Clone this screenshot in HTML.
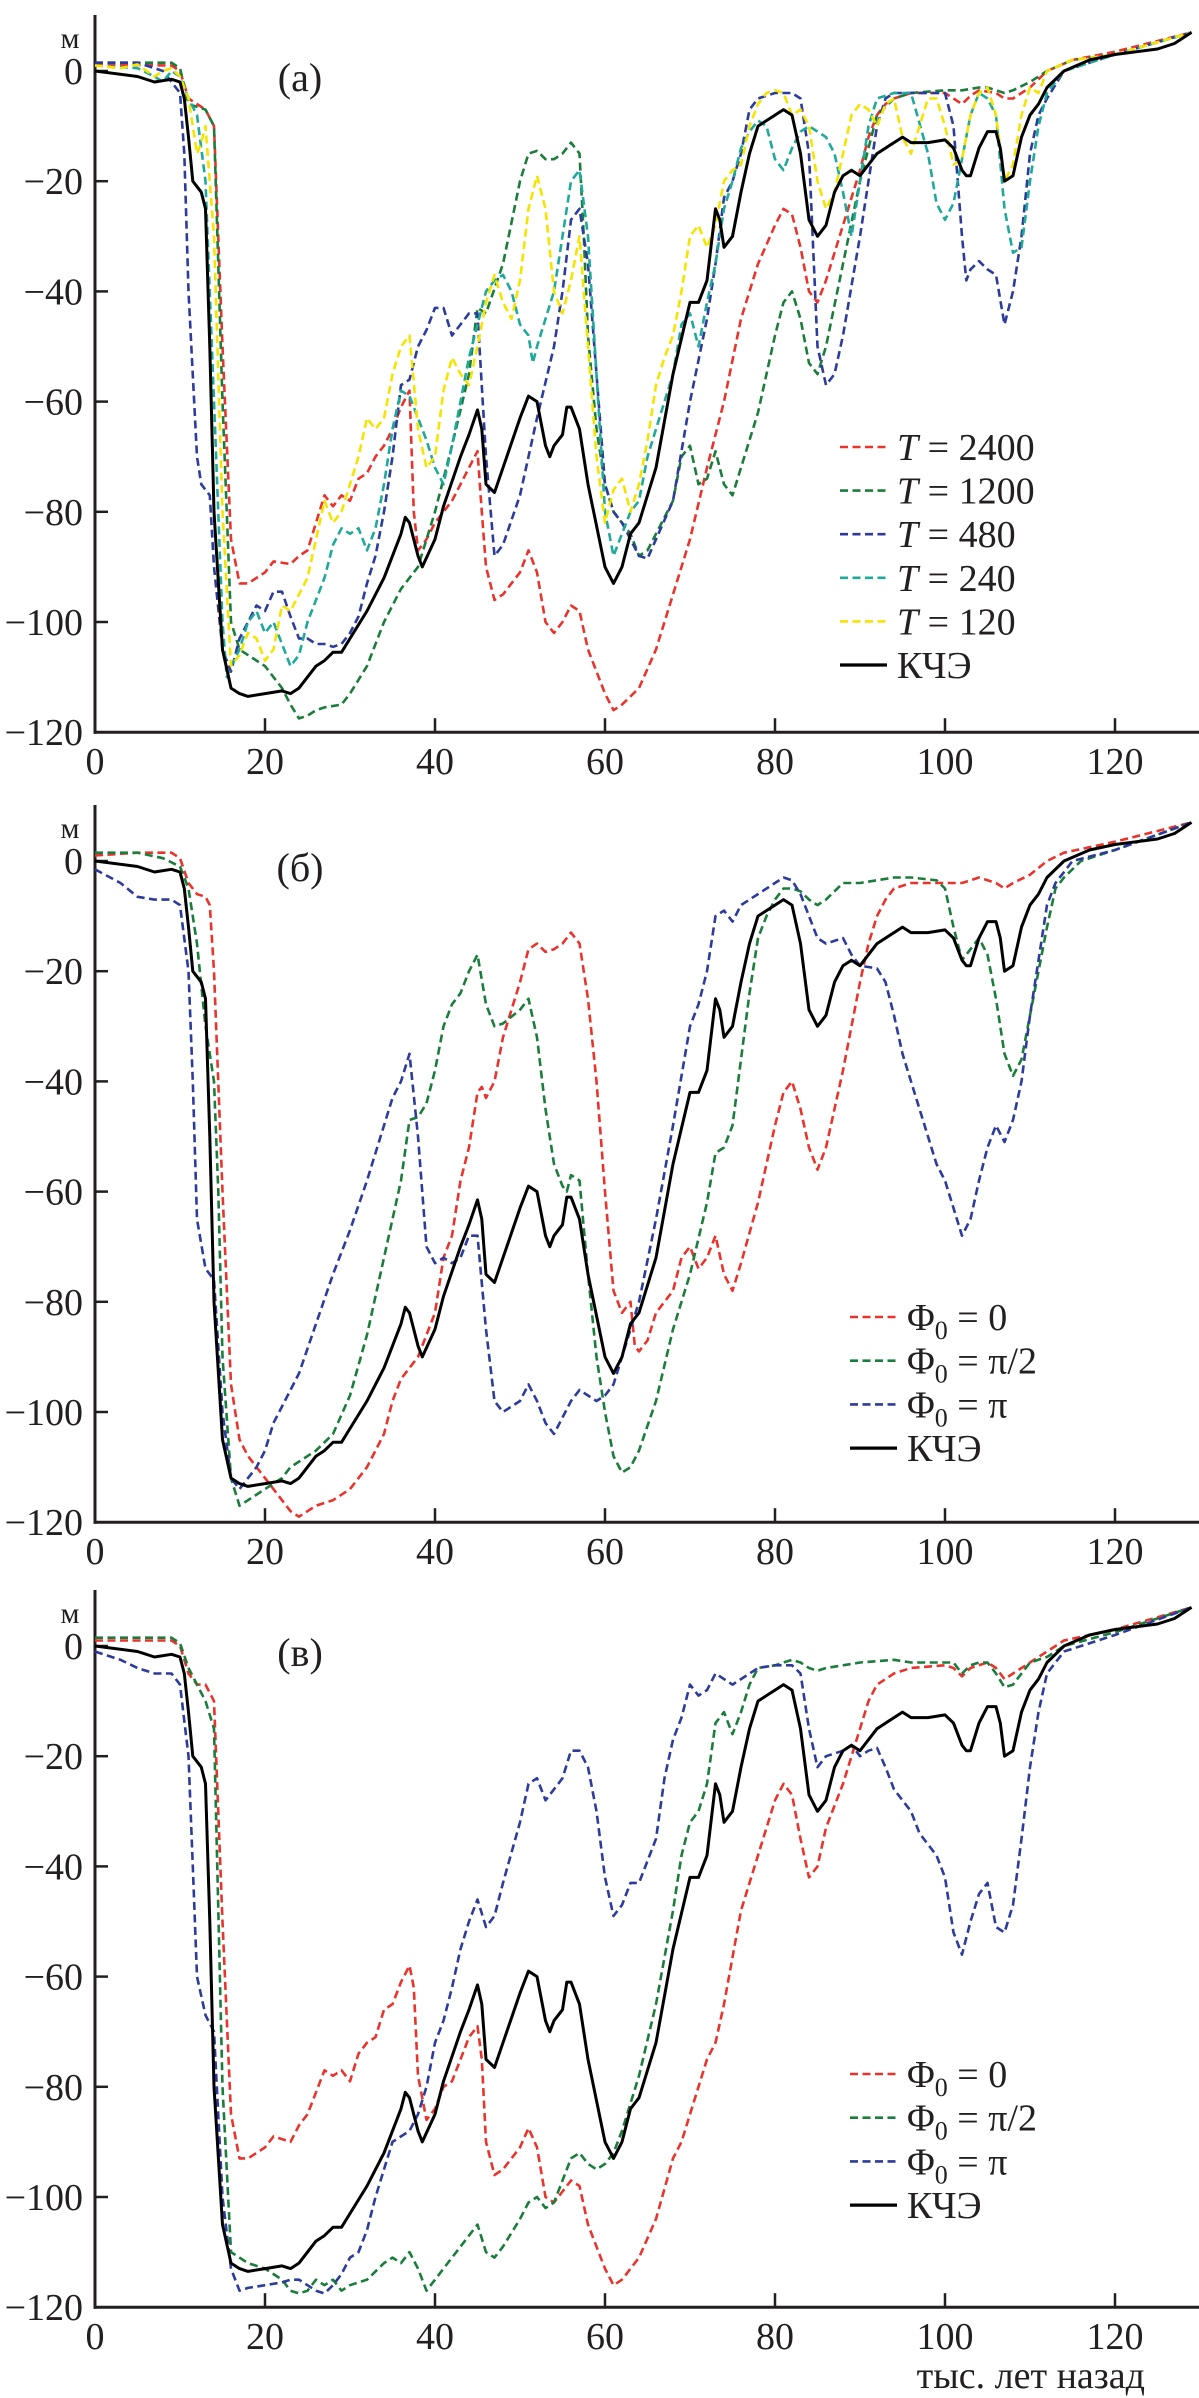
<!DOCTYPE html>
<html><head><meta charset="utf-8">
<style>
html,body{margin:0;padding:0;background:#fff;}
svg{display:block;}
text{font-family:"Liberation Serif","DejaVu Serif",serif;fill:#231f20;}
</style></head>
<body>
<svg id="fig" width="1199" height="2398" viewBox="0 0 1199 2398" xmlns="http://www.w3.org/2000/svg"></svg>
<script>
// ---- data (x: тыс. лет назад, y: м) ----
const xTicks = [0,20,40,60,80,100,120];
const yTicks = [0,-20,-40,-60,-80,-100,-120];
const kche = [[0,0],[5,-1],[7,-2],[9,-1.5],[10,-2],[10.5,-5],[11,-12],[11.5,-20],[12.5,-22],[13,-25],[13.5,-50],[14,-80],[15,-105],[16,-112],[17,-113],[18,-113.5],[20,-113],[22,-112.5],[23,-113],[24,-112],[26,-108],[27,-107],[28,-105.5],[29,-105.5],[30,-103],[32,-98],[34,-92],[36,-84],[36.5,-81],[37,-82],[38,-88],[38.5,-90],[40,-85],[41,-79],[43,-70],[44,-66],[45,-61.5],[45.5,-65],[46,-75],[47,-76.5],[48,-72],[50,-63],[51,-59],[52,-60],[53,-68],[53.5,-70],[54,-68],[55,-66],[55.5,-61],[56,-61],[57,-65],[58,-75],[60,-90],[61,-93],[62,-90],[63,-84],[64,-82],[66,-72],[68,-55],[70,-42],[71,-42],[72,-38],[73,-25],[73.5,-27],[74,-32],[75,-30],[76,-22],[77,-15],[78,-10],[80,-8],[81,-7],[82,-8],[83,-15],[84,-27],[85,-30],[86,-28],[87,-22],[88,-19],[89,-18],[90,-19],[92,-15],[94,-13],[95,-12],[96,-13],[98,-13],[100,-12.5],[101,-14],[102,-18],[102.5,-19],[103,-19],[104,-14],[105,-11],[106,-11],[106.5,-14],[107,-20],[108,-19],[109,-12],[110,-8],[111,-6],[112,-3],[114,0],[117,2],[120,3],[125,4],[127,5],[129,7]];
const t2400 = [[0,1.2],[9,1],[10,0],[11,-5],[13,-7],[14,-10],[15,-50],[16,-85],[17,-93],[18,-93],[20,-91],[21,-89],[23,-89.5],[24,-88],[25,-87],[26,-82],[27,-77],[28,-79],[29,-77],[30,-78],[31,-74],[32,-73],[33,-70],[34,-68],[35,-65],[36,-61],[37,-58],[37.5,-80],[38,-87],[39,-85],[40,-82],[41,-80],[42,-78],[43,-75],[44,-72],[45,-69],[45.5,-80],[46,-90],[47,-96],[48,-95],[50,-91],[51,-87],[52,-91],[53,-100],[54,-102],[55,-100],[56,-97],[57,-98],[58,-105],[60,-113],[61,-116],[62,-115],[64,-112],[66,-105],[68,-95],[69,-90],[70,-85],[72,-72],[74,-60],[76,-45],[78,-35],[80,-28],[81,-25],[82,-26],[83,-32],[84,-40],[85,-42],[86,-38],[88,-28],[90,-18],[91,-12],[92,-8],[93,-6],[94,-5],[96,-4],[100,-4],[101,-5],[102,-6],[103,-4.5],[104,-3.5],[106,-4],[107,-5],[108,-5],[110,-3],[112,0],[115,2],[120,3.5],[129,7]];
const t1200 = [[0,1.5],[9,1.5],[10,0.5],[11,-6],[13,-7],[14,-10],[15,-60],[16,-100],[17,-105],[18,-106],[20,-108],[22,-112],[23,-115],[24,-117.5],[25,-117],[26,-116],[27,-115.5],[29,-115],[30,-113],[32,-108],[34,-100],[36,-94],[38,-90],[40,-80],[42,-68],[44,-55],[45,-43],[46,-44],[48,-35],[50,-20],[51,-15],[52,-14.5],[53,-16],[54,-16],[55,-15],[56,-13],[57,-15],[57.5,-30],[58,-48],[59,-65],[60,-75],[61,-80],[62,-82],[63,-84],[64,-88],[65,-87],[66,-84],[68,-78],[69,-70],[70,-68],[71,-75],[72,-74],[73,-69],[74,-75],[75,-77],[76,-72],[78,-62],[80,-48],[81,-42],[82,-40],[83,-45],[84,-53],[85,-55],[86,-50],[88,-35],[90,-20],[92,-8],[94,-5],[96,-4],[100,-3.5],[102,-3.5],[104,-3],[105,-3],[106,-3.5],[107,-4],[108,-3.5],[110,-2],[112,0],[115,2],[120,3],[129,7]];
const t480 = [[0,1.5],[5,1.5],[8,0],[9,-2],[10,-4],[10.5,-15],[11,-40],[12,-70],[12.5,-75],[13.5,-77],[14,-90],[15,-105],[16,-109],[17,-103],[18,-100],[19,-97],[20,-98],[21,-94.5],[22,-94.5],[23,-99],[24,-103],[25,-103],[26,-104],[27,-104],[28,-104.5],[29,-104],[30,-102],[31,-99],[32,-93],[33,-88],[34,-80],[35,-70],[36,-57],[37,-56],[38,-50],[39,-47],[40,-43],[41,-43],[42,-48],[43,-46],[44,-44],[45,-44],[46,-70],[47,-88],[48,-86],[50,-77],[52,-63],[54,-50],[55,-40],[56,-27],[57,-25],[58,-35],[59,-55],[60,-75],[61,-80],[62,-82],[63,-85],[64,-88],[65,-88.5],[66,-85],[68,-78],[70,-60],[72,-45],[73,-35],[74,-23],[75,-20],[76,-15],[77,-7],[78,-5],[80,-4],[82,-4],[83,-5],[84,-15],[85,-50],[86,-57],[87,-55],[88,-48],[90,-30],[92,-10],[93,-5],[94,-4],[96,-4],[100,-4],[101,-10],[102,-30],[102.5,-38],[103,-36],[104,-34.5],[105,-36],[106,-37],[107,-46],[108,-40],[109,-30],[110,-15],[111,-8],[112,-5],[114,0],[120,3],[129,7]];
const t240 = [[0,1],[5,0.5],[7,-1],[8,-2],[9,0],[10,-1],[11,-5],[12,-8],[13,-20],[14,-60],[15,-100],[15.5,-110],[16,-108],[17,-105],[18,-100],[19,-98],[20,-102],[21,-100],[22,-104],[23,-108],[24,-106],[25,-100],[26,-96],[27,-92],[28,-86],[29,-83],[30,-84],[31,-83],[32,-87],[33,-83],[34,-75],[35,-65],[36,-58],[37,-59],[38,-63],[39,-67],[40,-72],[41,-75],[42,-68],[43,-60],[44,-52],[45,-46],[46,-40],[47,-38],[48,-37],[49,-40],[50,-46],[51,-48],[51.5,-53],[52,-50],[54,-40],[55,-30],[56,-20],[57,-18],[58,-30],[59,-55],[60,-80],[61,-88],[62,-84],[63,-80],[64,-78],[65,-70],[66,-65],[68,-55],[69,-46],[70,-44],[71,-50],[72,-42],[73,-35],[74,-25],[75,-20],[76,-14],[77,-11],[78,-9],[79,-10],[80,-16],[81,-18],[82,-14],[83,-11],[84,-10],[86,-12],[87,-15],[88,-22],[89,-30],[90,-20],[91,-10],[92,-5],[94,-4],[96,-4],[98,-15],[99,-24],[100,-27],[101,-24],[102,-16],[103,-8],[104,-4],[105,-5],[106,-8],[107,-25],[108,-33],[109,-32],[110,-20],[111,-10],[112,-4],[114,0],[120,3],[129,7]];
const t120 = [[0,1],[3,0.5],[5,1.2],[7,-1],[8,0],[9,0.5],[10,-1],[11,-5],[12,-15],[12.5,-13],[13,-10],[14,-30],[15,-80],[16,-108],[17,-106],[18,-102],[19,-103],[20,-107],[21,-105],[22,-97],[23,-98],[24,-95],[25,-92],[26,-85],[27,-78],[28,-82],[29,-80],[30,-75],[31,-70],[32,-63],[33,-65],[34,-63],[35,-55],[36,-50],[37,-48],[38,-65],[39,-72],[40,-70],[41,-58],[42,-52],[43,-55],[44,-57],[45,-50],[46,-42],[47,-37],[48,-42],[49,-45],[50,-38],[51,-25],[52,-19],[53,-25],[54,-40],[55,-44],[56,-38],[57,-30],[58,-50],[59,-70],[60,-82],[61,-76],[62,-74],[63,-80],[64,-75],[65,-67],[66,-57],[67,-52],[68,-48],[69,-40],[70,-30],[71,-28],[72,-32],[73,-28],[74,-20],[75,-18],[76,-17],[77,-10],[78,-6],[79,-4],[80,-3.5],[81,-4],[82,-8],[83,-7],[84,-10],[85,-20],[86,-25],[87,-22],[88,-15],[89,-8],[90,-6],[91,-7],[92,-10],[93,-6],[94,-5],[95,-12],[96,-15],[97,-10],[98,-5],[99,-5],[100,-10],[101,-17],[102,-16],[103,-8],[104,-4],[105,-3],[106,-8],[107,-20],[108,-17],[109,-8],[110,-3],[111,-4],[112,0],[115,2],[120,3],[129,7]];
const b0 = [[0,1],[5,1.5],[9,1.5],[10,0.5],[11,-4],[12,-6],[13,-6.5],[13.5,-8],[14,-20],[15,-60],[16,-95],[17,-105],[18,-108],[20,-112],[22,-116],[23,-118],[24,-119],[25,-118],[26,-117],[28,-116],[30,-114],[32,-110],[34,-104],[35,-98],[36,-94],[38,-90],[40,-82],[41,-72],[42,-68],[43,-58],[44,-52],[45,-42],[45.5,-41],[46,-43],[47,-40],[48,-32],[50,-22],[51,-16],[52,-15],[53,-16.5],[54,-16],[55,-15],[56,-13],[57,-15],[58,-25],[59,-40],[60,-60],[61,-78],[62,-82],[63,-80],[63.5,-88],[64,-89],[65,-87],[66,-82],[68,-78],[69,-72],[70,-70],[71,-74],[72,-72],[73,-68],[74,-75],[75,-78],[76,-73],[78,-62],[80,-48],[81,-42],[82,-40],[83,-45],[84,-52],[85,-56],[86,-52],[88,-38],[90,-22],[91,-15],[92,-10],[93,-7],[94,-5],[96,-4],[100,-4],[102,-4],[103,-3.5],[104,-3],[106,-4],[107,-5],[108,-4],[110,-2.5],[112,0],[114,1.5],[120,3.5],[129,7]];
const bHalf = [[0,1.5],[5,1.5],[8,0.5],[10,-1],[11,-5],[12,-15],[13,-30],[14,-40],[14.5,-60],[15,-90],[16,-112],[17,-117],[18,-116],[20,-114],[22,-112],[23,-110],[24,-109],[26,-107],[28,-104],[30,-97],[32,-86],[34,-72],[36,-58],[37,-47],[38,-46.5],[39,-44],[40,-38],[41,-30],[42,-26],[43,-24],[44,-20],[45,-17],[46,-26],[47,-30],[48,-29.5],[50,-27],[51,-25],[52,-32],[53,-45],[54,-55],[55,-59],[55.5,-60],[56,-57],[57,-58],[58,-75],[59,-90],[60,-100],[61,-108],[62,-111],[63,-110],[64,-107],[66,-98],[68,-85],[70,-75],[72,-62],[73,-53],[74,-52],[75,-48],[76,-36],[77,-24],[78,-14],[79,-10],[80,-7],[81,-5],[82,-5],[83,-5.5],[84,-7],[85,-8],[86,-7],[88,-4],[90,-4],[94,-3],[96,-3],[99,-3.5],[100,-5],[101,-12],[102,-18],[103,-16],[104,-14],[105,-17],[106,-25],[107,-35],[108,-39],[109,-36],[110,-28],[111,-20],[112,-12],[113,-5],[114,-3],[116,0],[120,2],[129,7]];
const bPi = [[0,-1.5],[3,-4],[5,-6.5],[7,-7],[9,-7],[10,-8],[11,-20],[11.5,-40],[12,-65],[13,-74],[14,-76],[15,-100],[16,-112],[17,-114],[18,-112],[19,-110],[20,-107],[21,-102],[22,-99],[24,-93],[26,-84],[28,-75],[30,-67],[32,-58],[33,-53],[34,-48],[35,-43],[36,-40],[37,-35],[38,-50],[39,-70],[40,-73],[41,-72],[42,-73],[43,-72],[44,-68],[45,-68],[46,-85],[47,-98],[48,-100],[50,-98],[51,-95],[52,-98],[53,-102],[54,-104],[55,-101],[56,-98],[57,-96],[58,-97],[59,-98],[60,-97],[61,-95],[62,-90],[64,-80],[66,-65],[68,-48],[70,-30],[71,-26],[72,-20],[73,-10],[74,-9],[75,-11],[76,-8],[78,-6],[80,-4],[81,-3],[82,-3.5],[83,-6],[84,-10],[85,-14],[86,-15],[88,-14],[89,-17],[90,-19],[92,-19.5],[93,-22],[94,-28],[95,-35],[96,-40],[98,-50],[99,-55],[100,-58],[101,-63],[102,-68],[103,-65],[104,-58],[105,-52],[106,-48],[107,-51],[108,-47],[109,-40],[110,-28],[111,-18],[112,-8],[113,-4],[115,0],[120,2],[129,7]];
const c0 = [[0,1],[9,1],[10,0],[11,-5],[12,-7],[13,-7],[14,-10],[15,-50],[16,-85],[17,-93],[18,-93],[20,-91],[21,-89],[23,-90],[24,-87],[25,-85],[26,-81],[27,-77],[28,-78],[29,-77],[30,-79],[31,-74],[32,-72],[33,-71],[34,-66],[35,-65],[36,-61],[37,-58],[37.5,-62],[38,-78],[39,-86],[40,-84],[41,-80],[42,-79],[43,-75],[44,-71],[45,-69],[45.5,-75],[46,-90],[47,-96],[48,-95],[50,-91],[51,-87.5],[52,-91],[53,-100],[54,-101],[55,-99],[56,-97],[57,-98],[58,-105],[60,-113],[61,-116],[62,-115],[64,-111],[66,-104],[68,-93],[69,-90],[70,-85],[72,-75],[73,-72],[74,-65],[76,-48],[78,-38],[80,-28],[81,-25],[82,-27],[83,-35],[84,-42],[85,-40],[86,-33],[88,-25],[90,-15],[91,-10],[92,-7],[94,-5],[96,-4],[100,-3.5],[101,-4],[102,-5.5],[103,-4],[105,-3],[106,-4],[107,-6],[108,-5],[110,-3],[112,-1],[114,1],[120,3],[129,7]];
const cHalf = [[0,1.5],[9,1.5],[10,0.5],[11,-4],[12,-7],[13,-10],[14,-15],[15,-80],[16,-110],[17,-111],[18,-112],[20,-113],[22,-115],[23,-117],[24,-117.5],[25,-117],[26,-115],[27,-116],[28,-115],[29,-117],[30,-116],[32,-115],[34,-112],[35,-111],[36,-112],[37,-110],[38,-113],[39,-117],[40,-115],[41,-113],[42,-111],[44,-107],[45,-105],[46,-110],[47,-111],[48,-109],[50,-104],[51,-101],[52,-100],[53,-102],[54,-101],[55,-97],[56,-93],[57,-92],[58,-94],[59,-95],[60,-94],[61,-92],[62,-88],[64,-78],[66,-65],[68,-48],[69,-38],[70,-32],[71,-30],[72,-25],[73,-14],[74,-12],[75,-16],[76,-12],[77,-7],[78,-4],[80,-3.5],[81,-3],[82,-2.5],[83,-3],[84,-4],[85,-4.5],[86,-4],[88,-3.5],[90,-3],[94,-2.5],[96,-3],[100,-3],[101,-3],[102,-5],[103,-3.5],[104,-3],[105,-3],[106,-5],[107,-7.5],[108,-7],[109,-5],[110,-3],[112,-2],[114,0],[120,2.5],[129,7]];
const cPi = [[0,-1],[3,-2.5],[5,-4],[7,-5],[9,-5],[10,-7],[11,-20],[11.5,-40],[12,-60],[13,-67],[14,-70],[15,-100],[16,-113],[17,-117],[18,-116.5],[20,-116],[22,-115.5],[23,-115],[24,-115],[25,-116],[26,-117],[27,-117.5],[28,-116],[29,-114],[30,-111],[31,-110],[32,-106],[33,-100],[34,-95],[35,-90],[36,-89],[37,-88],[38,-85],[39,-80],[40,-72],[41,-68],[42,-62],[43,-55],[44,-50],[45,-46],[46,-51],[47,-49],[48,-43],[50,-32],[51,-25],[52,-24],[53,-28],[54,-26],[55,-24],[56,-19],[57,-19],[58,-22],[59,-30],[60,-42],[61,-49],[62,-47],[63,-43],[64,-43],[66,-35],[67,-24],[68,-17],[69,-13],[70,-7],[71,-9],[72,-8],[73,-5],[74,-6],[75,-7],[76,-6],[78,-4],[80,-3.5],[82,-3.5],[83,-5],[84,-15],[85,-22],[86,-20],[88,-19],[89,-18],[90,-20],[91,-19],[92,-18.5],[93,-22],[94,-26],[95,-28],[96,-30],[97,-34],[98,-36],[99,-38],[100,-42],[101,-52],[102,-56],[103,-50],[104,-45],[105,-43],[106,-51],[107,-52],[108,-47],[109,-35],[110,-22],[111,-12],[112,-5],[114,-1],[120,2],[129,7]];
const labelsA = ['T = 2400','T = 1200','T = 480','T = 240','T = 120'];
const labelsPhi = ['0','π/2','π'];

const NS='http://www.w3.org/2000/svg';
const svg=document.getElementById('fig');
const X0=95, XS=8.5, YS=5.51;
const RED='#e8342c', GREEN='#1b7d3c', BLUE='#2d3b9c', TEAL='#1fa99b', YEL='#f5e400';
function el(tag,attrs,parent){const e=document.createElementNS(NS,tag);for(const k in attrs)e.setAttribute(k,attrs[k]);(parent||svg).appendChild(e);return e;}
function px(x){return X0+x*XS;}

function panel(name,y0,letter,series,legend,legendY){
  const g=el('g',{});
  
  
  const py=m=>y0-m*YS;
  const yBot=py(-120);
  // axes
  const ya=el('line',{x1:X0,y1:y0-56,x2:X0,y2:yBot+1.5,stroke:'#231f20','stroke-width':3},g);
  
  
  const xa=el('line',{x1:X0-1.5,y1:yBot,x2:1199,y2:yBot,stroke:'#231f20','stroke-width':3},g);
  
  
  yTicks.forEach(v=>{
    const y=py(v);
    if(v!==-120){const t=el('line',{x1:X0,y1:y,x2:X0+13,y2:y,stroke:'#231f20','stroke-width':2.5},g);
      
      }
    const tx=el('text',{x:83,y:y+13,'text-anchor':'end','font-size':38},g);
    
    
    tx.textContent=(v<0?'\u2212':'')+Math.abs(v);
  });
  xTicks.forEach(v=>{
    const x=px(v);
    if(v!==0){const t=el('line',{x1:x,y1:yBot,x2:x,y2:yBot-14,stroke:'#231f20','stroke-width':2.5},g);
      
      }
    const tx=el('text',{x:x,y:yBot+42,'text-anchor':'middle','font-size':38},g);
    
    
    tx.textContent=v;
  });
  const u=el('text',{x:70,y:y0-23,'text-anchor':'middle','font-size':30},g);
  
  
  u.textContent='м';
  const pl=el('text',{x:300,y:y0+20,'text-anchor':'middle','font-size':40},g);
  
  
  pl.textContent=letter;
  // series
  series.forEach(s=>{
    const d=s.data.map((p,i)=>(i?'L':'M')+px(p[0]).toFixed(1)+' '+py(p[1]).toFixed(1)).join(' ');
    const a={d:d,fill:'none',stroke:s.color,'stroke-width':s.dash?2.6:3,'stroke-linejoin':'round'};
    if(s.dash)a['stroke-dasharray']='8 4.5';
    const p=el('path',a,g);
    
    
  });
  // legend
  const lg=el('g',{},g);
  
  
  legend.forEach((L,i)=>{
    const y=legendY+i*legend.step;
    const ln=el('line',{x1:L.x1,y1:y,x2:L.x1+47,y2:y,stroke:L.color,'stroke-width':L.dash?2.6:3.2},lg);
    if(L.dash)ln.setAttribute('stroke-dasharray','8 4.5');
    
    
    const t=el('text',{x:L.x1+57,y:y+13,'font-size':38},lg);
    
    
    t.innerHTML=L.html;
  });
}

// Panel (a)
const legA=[
 {color:RED,dash:1,x1:840,html:'<tspan font-style="italic">T</tspan> = 2400'},
 {color:GREEN,dash:1,x1:840,html:'<tspan font-style="italic">T</tspan> = 1200'},
 {color:BLUE,dash:1,x1:840,html:'<tspan font-style="italic">T</tspan> = 480'},
 {color:TEAL,dash:1,x1:840,html:'<tspan font-style="italic">T</tspan> = 240'},
 {color:YEL,dash:1,x1:840,html:'<tspan font-style="italic">T</tspan> = 120'},
 {color:'#000',dash:0,x1:840,html:'КЧЭ'}];
legA.step=43.6;
panel('panel-a',71,'(a)',[
 {name:'series-t2400',data:t2400,color:RED,dash:1},
 {name:'series-t1200',data:t1200,color:GREEN,dash:1},
 {name:'series-t480',data:t480,color:BLUE,dash:1},
 {name:'series-t240',data:t240,color:TEAL,dash:1},
 {name:'series-t120',data:t120,color:YEL,dash:1},
 {name:'series-kche',data:kche,color:'#000',dash:0}],legA,447);

function legPhi(){const a=[
 {color:RED,dash:1,x1:850,html:'Φ<tspan font-size="26" dy="9">0</tspan><tspan dy="-9"> = '+labelsPhi[0]+'</tspan>'},
 {color:GREEN,dash:1,x1:850,html:'Φ<tspan font-size="26" dy="9">0</tspan><tspan dy="-9"> = '+labelsPhi[1]+'</tspan>'},
 {color:BLUE,dash:1,x1:850,html:'Φ<tspan font-size="26" dy="9">0</tspan><tspan dy="-9"> = '+labelsPhi[2]+'</tspan>'},
 {color:'#000',dash:0,x1:850,html:'КЧЭ'}];a.step=43.7;return a;}

panel('panel-b',861,'(б)',[
 {name:'series-phi0-0',data:b0,color:RED,dash:1},
 {name:'series-phi0-half-pi',data:bHalf,color:GREEN,dash:1},
 {name:'series-phi0-pi',data:bPi,color:BLUE,dash:1},
 {name:'series-kche',data:kche,color:'#000',dash:0}],legPhi(),1317);

panel('panel-c',1646,'(в)',[
 {name:'series-phi0-0',data:c0,color:RED,dash:1},
 {name:'series-phi0-half-pi',data:cHalf,color:GREEN,dash:1},
 {name:'series-phi0-pi',data:cPi,color:BLUE,dash:1},
 {name:'series-kche',data:kche,color:'#000',dash:0}],legPhi(),2074);

const xt=el('text',{x:1145,y:2388,'text-anchor':'end','font-size':38});


xt.textContent='тыс. лет назад';
</script>
</body></html>
